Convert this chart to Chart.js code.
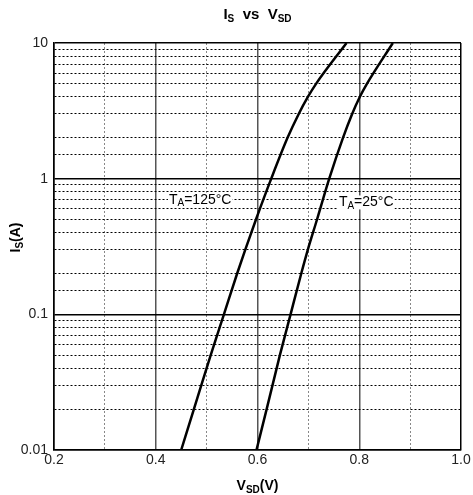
<!DOCTYPE html>
<html>
<head>
<meta charset="utf-8">
<script src="https://cdn.jsdelivr.net/npm/chart.js@4.4.1/dist/chart.umd.min.js"></script>
<style>
  html, body { margin: 0; padding: 0; background: #fff; }
  #wrap { width: 473px; height: 495px; }
</style>
</head>
<body>
<div id="wrap"><canvas id="isChart" width="473" height="495"></canvas></div>
<script>
// source current I_S (A)
const currentA = [0.01, 0.02, 0.05, 0.1, 0.2, 0.3, 0.5, 1, 2, 3, 4, 5, 10];
// V_SD (V) for each current
const vsd125 = [0.450, 0.475, 0.508, 0.534, 0.560, 0.576, 0.597, 0.627, 0.659, 0.681, 0.699, 0.715, 0.775];
const vsd25 = [0.598, 0.618, 0.644, 0.665, 0.686, 0.699, 0.717, 0.741, 0.768, 0.786, 0.801, 0.815, 0.866];
const seriesNames = ['TA=125°C', 'TA=25°C'];
const xTicks = [0.2, 0.4, 0.6, 0.8, 1.0];
const yTicks = [0.01, 0.1, 1, 10];

const FONT = '"Liberation Sans", Arial, sans-serif';

const toPoints = (vs) => currentA.map((i, k) => ({ x: vs[k], y: i }));

const isMajorX = (v) => Math.round(v * 10) % 2 === 0;
const isDecade = (v) => Math.abs(Math.log10(v) - Math.round(Math.log10(v))) < 1e-6;

// mixed-size text with subscripts, drawn straight on the canvas
function drawRich(ctx, parts, x, y, align) {
  let w = 0;
  parts.forEach(p => {
    ctx.font = `${p.bold ? 'bold ' : ''}${p.size}px ${FONT}`;
    p.w = ctx.measureText(p.t).width;
    w += p.w;
  });
  let cx = align === 'center' ? x - w / 2 : x;
  parts.forEach(p => {
    ctx.font = `${p.bold ? 'bold ' : ''}${p.size}px ${FONT}`;
    ctx.fillText(p.t, cx, y + (p.dy || 0));
    cx += p.w;
  });
  return w;
}

const textPlugin = {
  id: 'richText',
  afterDraw(chart) {
    const { ctx, chartArea, scales } = chart;
    const midX = (chartArea.left + chartArea.right) / 2;
    ctx.save();
    ctx.fillStyle = '#000';
    ctx.textBaseline = 'middle';
    ctx.textAlign = 'left';

    // title
    drawRich(ctx, [
      { t: 'I', size: 15, bold: true },
      { t: 'S', size: 10, bold: true, dy: 4 },
      { t: '  vs  V', size: 15, bold: true },
      { t: 'SD', size: 10, bold: true, dy: 4 }
    ], midX, 15, 'center');

    // x axis title
    drawRich(ctx, [
      { t: 'V', size: 14, bold: true },
      { t: 'SD', size: 10, bold: true, dy: 4 },
      { t: '(V)', size: 14, bold: true }
    ], midX, 486, 'center');

    // y axis title, rotated
    ctx.save();
    ctx.translate(16, (chartArea.top + chartArea.bottom) / 2 - 9);
    ctx.rotate(-Math.PI / 2);
    drawRich(ctx, [
      { t: 'I', size: 14, bold: true },
      { t: 'S', size: 10, bold: true, dy: 4 },
      { t: '(A)', size: 14, bold: true }
    ], 0, 0, 'center');
    ctx.restore();

    // curve labels
    const labels = [
      { x: 0.426, y: 0.70 },
      { x: 0.760, y: 0.668 }
    ];
    seriesNames.forEach((name, k) => {
      const px = scales.x.getPixelForValue(labels[k].x);
      const py = scales.y.getPixelForValue(labels[k].y);
      const parts = [
        { t: name.slice(0, 1), size: 14 },
        { t: name.slice(1, 2), size: 10, dy: 4 },
        { t: name.slice(2), size: 14 }
      ];
      let w = 0;
      parts.forEach(p => { ctx.font = `${p.size}px ${FONT}`; w += ctx.measureText(p.t).width; });
      ctx.fillStyle = '#fff';
      ctx.fillRect(px - 1, py - 7, w + 2, 14);
      ctx.fillStyle = '#000';
      drawRich(ctx, parts, px, py, 'left');
    });
    ctx.restore();
  }
};

const config = {
  type: 'line',
  data: {
    datasets: [
      {
        label: seriesNames[0],
        data: toPoints(vsd125),
        borderColor: '#000',
        borderWidth: 2.5,
        pointRadius: 0,
        cubicInterpolationMode: 'monotone'
      },
      {
        label: seriesNames[1],
        data: toPoints(vsd25),
        borderColor: '#000',
        borderWidth: 2.5,
        pointRadius: 0,
        cubicInterpolationMode: 'monotone'
      }
    ]
  },
  options: {
    responsive: false,
    animation: false,
    events: [],
    layout: { padding: { top: 43, right: 12, left: 0, bottom: 0 } },
    plugins: {
      legend: { display: false },
      title: { display: false },
      tooltip: { enabled: false }
    },
    scales: {
      x: {
        type: 'linear',
        min: 0.2,
        max: 1.0,
        afterFit: (s) => { s.height = 45; },
        ticks: {
          stepSize: 0.1,
          autoSkip: false,
          maxRotation: 0,
          padding: 2,
          color: '#222',
          font: { family: FONT, size: 14 },
          callback: (v) => xTicks.some(t => Math.abs(t - v) < 1e-6) ? v.toFixed(1) : ''
        },
        grid: {
          drawTicks: false,
          color: (c) => {
            const v = c.tick.value;
            if (Math.abs(v - 0.2) < 1e-6 || Math.abs(v - 1) < 1e-6) return '#000';
            return isMajorX(v) ? '#555' : '#888';
          },
          lineWidth: (c) => {
            const v = c.tick.value;
            if (Math.abs(v - 0.2) < 1e-6 || Math.abs(v - 1) < 1e-6) return 1.5;
            return isMajorX(v) ? 1.5 : 1;
          }
        },
        border: {
          color: '#000',
          width: 1.5,
          dash: (c) => (c.tick && !isMajorX(c.tick.value)) ? [2, 2] : []
        }
      },
      y: {
        type: 'logarithmic',
        min: 0.01,
        max: 10,
        afterFit: (s) => { s.width = 54; },
        ticks: {
          autoSkip: false,
          padding: 6,
          color: '#222',
          font: { family: FONT, size: 14 },
          callback: (v) => yTicks.some(t => Math.abs(t - v) / t < 1e-6) ? String(Number(v.toPrecision(3))) : ''
        },
        grid: {
          drawTicks: false,
          color: '#000',
          lineWidth: (c) => isDecade(c.tick.value) ? 1.5 : 1
        },
        border: {
          color: '#000',
          width: 1.5,
          dash: (c) => (c.tick && !isDecade(c.tick.value)) ? [2, 2] : []
        }
      }
    }
  },
  plugins: [textPlugin]
};

new Chart(document.getElementById('isChart'), config);
</script>
</body>
</html>
